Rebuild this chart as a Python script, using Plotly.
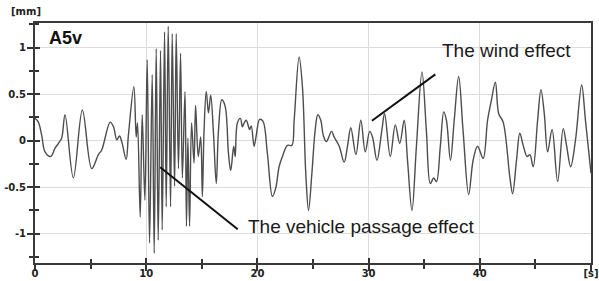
import plotly.graph_objects as go

# ---- data ----
time_s = [0, 0.3, 0.6, 0.9, 1.41, 1.8, 2.1, 2.4, 2.7, 3.45, 4.26, 5.1, 5.7, 6.0,
          6.76, 7.06, 7.36, 7.6, 7.8, 8.2, 8.4, 8.89, 9.1, 9.22, 9.46, 9.64, 9.88,
          10.09, 10.3, 10.54, 10.72, 10.9, 11.08, 11.29, 11.44, 11.65, 11.8, 11.98,
          12.19, 12.34, 12.55, 12.7, 12.9, 13.09, 13.25, 13.49, 13.62, 13.75, 13.9,
          14.08, 14.3, 14.44, 14.68, 14.9, 15.05, 15.2, 15.4, 15.6, 15.8, 16.05, 16.3,
          16.5, 16.8, 17.1, 17.4, 17.6, 17.87, 18.0, 18.2, 18.47, 18.65, 18.8, 19.0,
          19.3, 19.45, 19.7, 19.9, 20.2, 20.5, 20.9, 21.35, 21.65, 21.95, 22.25, 22.7,
          23.1, 23.3, 23.75, 24.05, 24.35, 24.6, 24.9, 25.2, 25.43, 25.7, 25.92, 26.2,
          26.67, 26.9, 27.36, 27.8, 28.1, 28.4, 28.86, 29.3, 29.7, 30.1, 30.35, 30.75,
          31.2, 31.44, 31.95, 32.4, 32.8, 33.2, 33.5, 33.9, 34.3, 34.8, 35.2, 35.55,
          35.85, 36.1, 36.45, 36.76, 37.0, 37.36, 37.7, 38.1, 38.5, 39.0, 39.4, 39.8,
          40.3, 40.7, 41.05, 41.4, 41.7, 42.1, 42.7, 42.95, 43.3, 43.6, 43.9, 44.26,
          44.5, 44.8, 45.2, 45.5, 45.8, 46.1, 46.5, 47.0, 47.5, 47.8, 48.17, 48.6,
          49.16, 49.5, 50.0]
disp_mm = [0.24, 0.20, 0.06, -0.12, -0.17, -0.08, -0.03, 0.03, 0.28, -0.40, 0.33, -0.30, -0.15, -0.10,
           0.20, 0.15, 0.01, 0.05, -0.01, -0.20, 0.06, 0.58, 0.04, 0.19, -0.82, 0.28, -0.64,
           0.87, -1.10, 0.71, -1.21, 0.99, -1.07, 0.97, -0.96, 1.17, -0.71, 1.23,
           -0.71, 1.15, -0.49, 1.15, -0.30, 0.94, -0.40, 0.53, -0.92, 0.03, -0.92,
           0.19, -0.24, 0.38, -0.17, 0.04, -0.60, 0.10, 0.53, 0.30, 0.49, 0.08, -0.46,
           0.11, 0.44, 0.37, -0.14, -0.32, -0.06, -0.17, 0.19, 0.24, 0.15, 0.19, 0.22,
           0.12, 0.16, -0.06, 0.06, 0.23, 0.21, -0.14, -0.60, -0.51, -0.28, -0.17, -0.05,
           -0.05, 0.21, 0.90, 0.58, -0.35, -0.75, -0.35, 0.12, 0.28, 0.22, 0.06, -0.01,
           0.10, 0.04, -0.06, -0.23, -0.06, 0.14, -0.15, 0.22, -0.12, 0.10, 0.04, -0.21,
           0.12, 0.29, -0.17, 0.17, -0.03, 0.22, -0.21, -0.75, -0.06, 0.74, 0.10, -0.46,
           -0.40, -0.44, -0.06, 0.31, 0.22, -0.21, 0.22, 0.69, 0.10, -0.58, -0.21, -0.06,
           -0.19, 0.22, 0.44, 0.63, 0.29, 0.20, -0.39, -0.57, -0.21, 0.08, -0.05, -0.17,
           -0.15, -0.28, 0.22, 0.55, 0.29, -0.12, 0.12, -0.44, 0.13, -0.05, -0.28, 0.00,
           0.60, 0.22, -0.35]

x_tick_vals = [0, 10, 20, 30, 40, 50]
x_tick_text = ["0", "10", "20", "30", "40", "[s]"]
y_tick_vals = [-1, -0.5, 0, 0.5, 1]
y_tick_text = ["-1", "-0.5", "0", "0.5", "1"]

X_RANGE = [0, 50]
Y_RANGE = [-1.315, 1.266]

fig = go.Figure()
fig.add_trace(go.Scatter(
    x=time_s, y=disp_mm, mode="lines",
    line=dict(color="#4d4d4d", width=1.4, shape="spline", smoothing=1.0),
    hoverinfo="skip", showlegend=False))
# empty trace so the overlay axes (inside tick halves) are rendered
fig.add_trace(go.Scatter(x=[], y=[], xaxis="x2", yaxis="y2", showlegend=False))

tickfont = dict(family="DejaVu Sans", size=10, color="#222", weight="bold")
axis_common = dict(showline=True, linecolor="#3a3a3a", linewidth=2, mirror=True,
                   gridcolor="#dcdcdc", gridwidth=1, zeroline=False, automargin=False,
                   ticks="outside", ticklen=6, tickwidth=1.5, tickcolor="#333",
                   tickfont=tickfont)

fig.update_layout(
    width=599, height=281,
    margin=dict(l=35, r=8, t=23, b=18, autoexpand=False),
    paper_bgcolor="white", plot_bgcolor="white",
    xaxis=dict(range=X_RANGE, tickvals=x_tick_vals, ticktext=x_tick_text,
               ticklabelstandoff=-6,
               minor=dict(dtick=5, tick0=0, ticks="outside", ticklen=4,
                          tickcolor="#333", showgrid=False),
               **axis_common),
    yaxis=dict(range=Y_RANGE, tickvals=y_tick_vals, ticktext=y_tick_text,
               ticklabelstandoff=-1,
               minor=dict(dtick=0.25, tick0=0, ticks="outside", ticklen=4,
                          tickcolor="#333", showgrid=False),
               **axis_common),
    xaxis2=dict(range=X_RANGE, overlaying="x", anchor="y2", side="bottom",
                tickvals=x_tick_vals, showticklabels=False, showgrid=False, automargin=False,
                zeroline=False, showline=False, ticks="inside", ticklen=5,
                tickwidth=1.5, tickcolor="#333",
                minor=dict(dtick=5, tick0=0, ticks="inside", ticklen=4, tickcolor="#333")),
    yaxis2=dict(range=Y_RANGE, overlaying="y", anchor="x2", side="left",
                tickvals=y_tick_vals, showticklabels=False, showgrid=False, automargin=False,
                zeroline=False, showline=False, ticks="inside", ticklen=5,
                tickwidth=1.5, tickcolor="#333",
                minor=dict(dtick=0.25, tick0=0, ticks="inside", ticklen=4, tickcolor="#333")),
)

# pointer lines
fig.add_shape(type="line", xref="x", yref="y", x0=11.26, y0=-0.286, x1=18.23, y1=-0.953,
              line=dict(color="#111", width=2))
fig.add_shape(type="line", xref="x", yref="y", x0=30.3, y0=0.215, x1=36.0, y1=0.714,
              line=dict(color="#111", width=2))

fig.add_annotation(text="A5v", xref="x", yref="y", x=1.1, y=1.11, xanchor="left",
                   yanchor="middle", showarrow=False,
                   font=dict(family="Liberation Sans", size=18, color="#111", weight="bold"))
fig.add_annotation(text="The wind effect", xref="x", yref="y", x=36.4, y=0.968,
                   xanchor="left", yanchor="middle", showarrow=False,
                   font=dict(family="Liberation Sans", size=19, color="#1a1a1a"))
fig.add_annotation(text="The vehicle passage effect", xref="x", yref="y", x=19.0, y=-0.925,
                   xanchor="left", yanchor="middle", showarrow=False,
                   font=dict(family="Liberation Sans", size=19, color="#1a1a1a"))
fig.add_annotation(text="[mm]", xref="paper", yref="paper", x=-0.047, y=1.048,
                   xanchor="left", yanchor="middle", showarrow=False,
                   font=dict(family="DejaVu Sans", size=10, color="#222", weight="bold"))

fig.write_html("out.html", config={"displayModeBar": False},
               post_script="document.body.style.margin='0';document.body.style.overflow='hidden';")
